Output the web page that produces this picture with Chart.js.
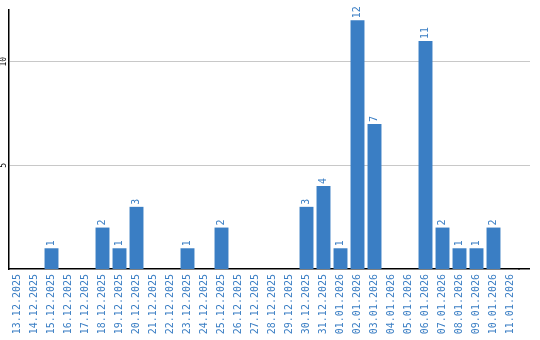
<!DOCTYPE html>
<html>
<head>
<meta charset="utf-8">
<script src="https://cdn.jsdelivr.net/npm/chart.js@4/dist/chart.umd.min.js"></script>
<style>
  html, body { margin: 0; padding: 0; background: #fff; }
  #wrap { width: 540px; height: 340px; position: relative; }
</style>
</head>
<body>
<div id="wrap"><canvas id="chart"></canvas></div>
<script>
/* ------------------------------ Data ------------------------------ */
const days = [
    '13.12.2025', '14.12.2025', '15.12.2025', '16.12.2025', '17.12.2025',
    '18.12.2025', '19.12.2025', '20.12.2025', '21.12.2025', '22.12.2025',
    '23.12.2025', '24.12.2025', '25.12.2025', '26.12.2025', '27.12.2025',
    '28.12.2025', '29.12.2025', '30.12.2025', '31.12.2025', '01.01.2026',
    '02.01.2026', '03.01.2026', '04.01.2026', '05.01.2026', '06.01.2026',
    '07.01.2026', '08.01.2026', '09.01.2026', '10.01.2026', '11.01.2026'
];
const counts = [0, 0, 1, 0, 0, 2, 1, 3, 0, 0, 1, 0, 2, 0, 0, 0, 0, 3, 4, 1, 12, 7, 0, 0, 11, 2, 1, 1, 2, 0];
const yTicks = [5, 10];

const blue = '#3a7ec4';
const mono = '"DejaVu Sans Mono", "Liberation Mono", monospace';
const EXTRA_RIGHT = 11;   // grid + axis run a bit past the last category

// same pixel snapping chart.js uses for its own lines
const snap = (px, w) => Math.round(px - w / 2) + w / 2;

/* ----------------------- value labels on bars ---------------------- */
const barLabels = {
    id: 'barLabels',
    beforeDatasetsDraw(chart) {
        // stretch grid lines and the x axis line to the right edge
        const { ctx, chartArea, scales } = chart;
        ctx.save();
        ctx.lineWidth = 1;
        ctx.strokeStyle = '#c8c8c8';
        yTicks.forEach(v => {
            const y = snap(scales.y.getPixelForValue(v), 1);
            ctx.beginPath();
            ctx.moveTo(chartArea.right - 1, y);
            ctx.lineTo(chartArea.right + EXTRA_RIGHT, y);
            ctx.stroke();
        });
        ctx.restore();
    },
    afterDraw(chart) {
        const { ctx, chartArea } = chart;
        ctx.save();
        ctx.strokeStyle = '#000';
        ctx.lineWidth = 1.5;
        ctx.beginPath();
        ctx.moveTo(chartArea.right - 1, snap(chartArea.bottom, 1.5));
        ctx.lineTo(chartArea.right + EXTRA_RIGHT, snap(chartArea.bottom, 1.5));
        ctx.stroke();
        ctx.restore();
    },
    afterDatasetsDraw(chart) {
        const ctx = chart.ctx;
        const meta = chart.getDatasetMeta(0);
        ctx.save();
        ctx.fillStyle = blue;
        ctx.font = '10px ' + mono;
        ctx.textAlign = 'left';
        ctx.textBaseline = 'middle';
        meta.data.forEach((bar, i) => {
            if (!counts[i]) return;
            ctx.save();
            ctx.translate(bar.x, bar.y - 2);
            ctx.rotate(-Math.PI / 2);
            ctx.fillText(String(counts[i]), 0, 0);
            ctx.restore();
        });
        ctx.restore();
    }
};

new Chart(document.getElementById('chart'), {
    type: 'bar',
    data: {
        labels: days,
        datasets: [{
            data: counts,
            backgroundColor: blue,
            barPercentage: 0.82,
            categoryPercentage: 1
        }]
    },
    options: {
        responsive: true,
        maintainAspectRatio: false,
        animation: false,
        layout: { padding: { top: 10, right: 10 + EXTRA_RIGHT, left: 0, bottom: 0 } },
        plugins: {
            legend: { display: false },
            tooltip: { enabled: false }
        },
        scales: {
            x: {
                grid: { display: false, drawTicks: false },
                border: { color: '#000', width: 1.5 },
                ticks: {
                    color: blue,
                    font: { family: mono, size: 10 },
                    minRotation: 90,
                    maxRotation: 90,
                    autoSkip: false,
                    padding: 5
                },
                afterFit(scale) { scale.height = 71; }
            },
            y: {
                min: 0,
                max: 12.5,
                grid: { color: '#c8c8c8', drawTicks: false },
                border: { color: '#000', width: 1.5 },
                ticks: {
                    color: '#000',
                    font: { family: mono, size: 8 },
                    minRotation: 90,
                    maxRotation: 90,
                    crossAlign: 'center',
                    padding: 0
                },
                afterBuildTicks(scale) {
                    scale.ticks = yTicks.map(v => ({ value: v }));
                },
                afterFit(scale) { scale.width = 9; }
            }
        }
    },
    plugins: [barLabels]
});
</script>
</body>
</html>
